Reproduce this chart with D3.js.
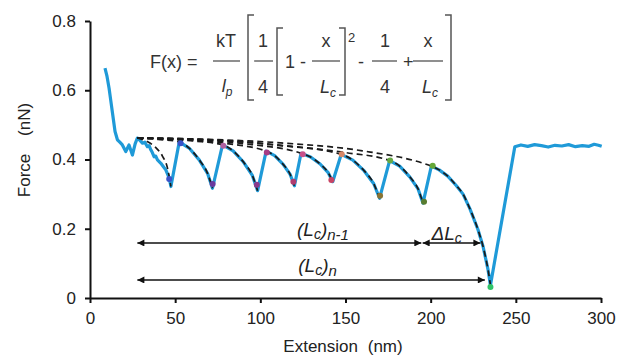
<!DOCTYPE html>
<html>
<head>
<meta charset="utf-8">
<script src="https://cdn.jsdelivr.net/npm/d3@7"></script>
<style>
  html, body { margin: 0; padding: 0; background: #fff; }
  svg { display: block; font-family: "Liberation Sans", Arial, sans-serif; }
</style>
</head>
<body>
<svg id="chart" width="619" height="357"></svg>
<script>
// measured force-extension trace: [extension (nm), force (nN)]
const trace = [
  [8.8, 0.664], [10, 0.64], [11.2, 0.606], [12.2, 0.57], [13.1, 0.538], [14.7, 0.481], [16.1, 0.457],
  [17.5, 0.45], [19, 0.442], [21, 0.423], [22.9, 0.442], [24.9, 0.413], [26.5, 0.445], [27.8, 0.462],
  [29.3, 0.455], [30.8, 0.447], [32.2, 0.45], [33.7, 0.437], [34.7, 0.44], [35.7, 0.428], [36.6, 0.42],
  [37.6, 0.408], [38.6, 0.41], [39.6, 0.399], [41.6, 0.389], [43, 0.38], [44.5, 0.37], [46.5, 0.346],
  [47.5, 0.322],
  [52.4, 0.451], [58.2, 0.433], [64.1, 0.399], [69, 0.36], [71.9, 0.317],
  [77.8, 0.442], [84, 0.425], [90.2, 0.392], [95.3, 0.354], [98.4, 0.31],
  [103.4, 0.424], [108.4, 0.411], [113.4, 0.386], [117.5, 0.357], [120, 0.324],
  [123.9, 0.418], [129.5, 0.407], [135.1, 0.387], [139.7, 0.363], [142.5, 0.336],
  [147.5, 0.415], [154.3, 0.398], [161, 0.367], [166.6, 0.33], [170, 0.288],
  [175.9, 0.397], [181.8, 0.381], [187.7, 0.35], [192.6, 0.315], [195.5, 0.274],
  [200.4, 0.381], [205, 0.37], [210, 0.352], [215, 0.325], [219, 0.3], [223, 0.258],
  [227.8, 0.197], [230.8, 0.148], [233.7, 0.081], [235.1, 0.037],
  [249.4, 0.437], [253, 0.442], [257, 0.438], [261, 0.443], [265, 0.44], [269, 0.436], [273, 0.441],
  [277, 0.439], [281, 0.443], [285, 0.437], [289, 0.44], [293, 0.438], [296, 0.444], [298.5, 0.441], [300.4, 0.438]
];

// WLC fit curves (dashed), one per unfolding event
const fit1 = [[27.8, 0.462], [33.5, 0.452], [38.5, 0.435], [42.5, 0.41], [45.5, 0.375], [47.5, 0.322]];
const fit2 = [[27.8, 0.462], [40, 0.458], [52.4, 0.451], [58.2, 0.433], [64.1, 0.399], [69, 0.36], [71.9, 0.317]];
const fit3 = [[27.8, 0.462], [45, 0.459], [62, 0.453], [77.8, 0.442], [84, 0.425], [90.2, 0.392], [95.3, 0.354], [98.4, 0.31]];
const fit4 = [[27.8, 0.462], [55, 0.457], [80, 0.446], [103.4, 0.424], [108.4, 0.411], [113.4, 0.386], [117.5, 0.357], [120, 0.324]];
const fit5 = [[27.8, 0.462], [60, 0.457], [95, 0.443], [123.9, 0.418], [129.5, 0.407], [135.1, 0.387], [139.7, 0.363], [142.5, 0.336]];
const fit6 = [[27.8, 0.462], [65, 0.458], [110, 0.442], [147.5, 0.415], [154.3, 0.398], [161, 0.367], [166.6, 0.33], [170, 0.288]];
const fit7 = [[27.8, 0.462], [70, 0.457], [112, 0.44], [150, 0.42], [175.9, 0.397], [181.8, 0.381], [187.7, 0.35], [192.6, 0.315], [195.5, 0.274]];
const fit8 = [[27.8, 0.462], [70, 0.458], [112, 0.448], [160, 0.425], [195, 0.39], [200.4, 0.381], [205, 0.37], [210, 0.352],
  [215, 0.325], [219, 0.3], [223, 0.258], [227.8, 0.197], [230.8, 0.148], [233.7, 0.081], [235.1, 0.037]];

// coloured markers at the fit ends
const dotX = [46.5, 53.2, 72, 78.3, 97.9, 103.8, 119.4, 124.9, 141.7, 147.8, 170.3, 176.2, 196.1, 201.2, 235.1];
const dotF = [0.344, 0.447, 0.329, 0.44, 0.327, 0.42, 0.336, 0.415, 0.341, 0.415, 0.295, 0.397, 0.278, 0.382, 0.032];
const dotColor = ['#3a52c8', '#3a52c8', '#6a3a9e', '#b060a0', '#8a3a8c', '#a83c84', '#b03c70', '#c8508a',
  '#c84464', '#d88868', '#8a7434', '#66a844', '#587c30', '#66a838', '#30c468'];

// contour length arrows
const arrowFrom = [27.8, 195.3, 27.8];
const arrowTo = [194.5, 229.2, 231.8];
const arrowF = [0.159, 0.159, 0.052];

const xTicks = [0, 50, 100, 150, 200, 250, 300];
const yTicks = [0, 0.2, 0.4, 0.6, 0.8];

const svg = d3.select('#chart');
const x = d3.scaleLinear().domain([0, 300]).range([90, 601]);
const y = d3.scaleLinear().domain([0, 0.8]).range([298, 21]);

const FONT = '"Liberation Sans", Arial, sans-serif';

// axes
const xAxis = svg.append('g')
  .attr('transform', `translate(0,${y(0)})`)
  .call(d3.axisBottom(x).tickValues(xTicks).tickSize(5).tickSizeOuter(0).tickPadding(9).tickFormat(d3.format('d')));
const yAxis = svg.append('g')
  .attr('transform', `translate(${x(0)},0)`)
  .call(d3.axisLeft(y).tickValues(yTicks).tickSize(5).tickSizeOuter(0).tickPadding(9)
    .tickFormat(d => d === 0 ? '0' : d3.format('.1f')(d)));
[xAxis, yAxis].forEach(a => {
  a.select('.domain').attr('stroke', '#111').attr('stroke-width', 2);
  a.selectAll('.tick line').attr('stroke', '#111').attr('stroke-width', 2);
  a.selectAll('.tick text').attr('fill', '#222').attr('font-size', 17).attr('font-family', FONT);
});

// axis titles
const yTitle = svg.append('text')
  .attr('transform', 'translate(30,150) rotate(-90)')
  .attr('text-anchor', 'middle')
  .attr('font-size', 17).attr('fill', '#222');
yTitle.append('tspan').text('Force ');
yTitle.append('tspan').attr('dx', 13).text('(nN)');

const xTitle = svg.append('text')
  .attr('x', 343).attr('y', 352)
  .attr('text-anchor', 'middle')
  .attr('font-size', 17).attr('fill', '#222');
xTitle.append('tspan').text('Extension ');
xTitle.append('tspan').attr('dx', 5).text('(nm)');

// trace
const line = d3.line().x(d => x(d[0])).y(d => y(d[1]));
svg.append('path')
  .datum(trace)
  .attr('fill', 'none')
  .attr('stroke', '#1f9ad8')
  .attr('stroke-width', 3.2)
  .attr('stroke-linejoin', 'round')
  .attr('d', line);

// dashed WLC fits
const fitLine = d3.line().x(d => x(d[0])).y(d => y(d[1])).curve(d3.curveMonotoneX);
[fit1, fit2, fit3, fit4, fit5, fit6, fit7, fit8].forEach(f => {
  svg.append('path')
    .datum(f)
    .attr('fill', 'none')
    .attr('stroke', '#1a1a1a')
    .attr('stroke-width', 1.7)
    .attr('stroke-dasharray', '6,4')
    .attr('d', fitLine);
});

svg.append('g').selectAll('circle')
  .data(dotX)
  .join('circle')
  .attr('cx', d => x(d))
  .attr('cy', (d, i) => y(dotF[i]))
  .attr('r', 3)
  .attr('fill', (d, i) => dotColor[i]);

// arrows
const defs = svg.append('defs');
defs.append('marker')
  .attr('id', 'head')
  .attr('viewBox', '0 0 10 10')
  .attr('refX', 10).attr('refY', 5)
  .attr('markerWidth', 8).attr('markerHeight', 7)
  .attr('markerUnits', 'userSpaceOnUse')
  .attr('orient', 'auto-start-reverse')
  .append('path').attr('d', 'M0,0L10,5L0,10Z').attr('fill', '#111');

svg.append('g').selectAll('line')
  .data(arrowFrom)
  .join('line')
  .attr('x1', d => x(d))
  .attr('x2', (d, i) => x(arrowTo[i]))
  .attr('y1', (d, i) => y(arrowF[i]))
  .attr('y2', (d, i) => y(arrowF[i]))
  .attr('stroke', '#111')
  .attr('stroke-width', 1.5)
  .attr('marker-start', 'url(#head)')
  .attr('marker-end', 'url(#head)');

// arrow labels
function lcLabel(cx, f, sub) {
  const t = svg.append('text')
    .attr('x', x(cx)).attr('y', y(f))
    .attr('text-anchor', 'middle')
    .attr('font-size', 19).attr('font-style', 'italic').attr('fill', '#222');
  t.append('tspan').text('(L');
  t.append('tspan').attr('font-size', 14).attr('dy', 3).text('c');
  t.append('tspan').attr('dy', -3).text(')');
  t.append('tspan').attr('font-size', 15).attr('dy', 4).text(sub);
}
lcLabel(136.8, 0.179, 'n-1');
lcLabel(133.6, 0.075, 'n');

const dl = svg.append('text')
  .attr('x', x(200.5)).attr('y', y(0.168))
  .attr('font-size', 19).attr('font-style', 'italic').attr('fill', '#222');
dl.append('tspan').text('\u0394L');
dl.append('tspan').attr('font-size', 14).attr('dy', 3).text('c');

// equation inset
const eq = svg.append('g').attr('fill', '#333').attr('font-size', 18);
function eqText(px, py, str, anchor) {
  return eq.append('text').attr('x', px).attr('y', py).attr('text-anchor', anchor || 'middle').text(str);
}
function eqItalicSub(px, py, main, sub) {
  const t = eq.append('text').attr('x', px).attr('y', py).attr('text-anchor', 'middle').attr('font-style', 'italic');
  t.append('tspan').text(main);
  t.append('tspan').attr('font-size', 12).attr('dy', 4).text(sub);
}
function bar(x1, x2) {
  eq.append('line').attr('x1', x1).attr('x2', x2).attr('y1', 61).attr('y2', 61)
    .attr('stroke', '#444').attr('stroke-width', 1.2);
}
function bracket(bx, y1, y2, dir) {
  eq.append('path')
    .attr('d', `M${bx + dir * 6},${y1}H${bx}V${y2}H${bx + dir * 6}`)
    .attr('fill', 'none').attr('stroke', '#555').attr('stroke-width', 1.5);
}

eqText(150, 68, 'F(x) =', 'start');
eqText(226, 47, 'kT'); bar(213, 240); eqItalicSub(227, 92, 'l', 'p');
bracket(248, 15, 100, 1);
eqText(263, 47, '1'); bar(254, 273); eqText(263, 93, '4');
bracket(277, 28, 95, 1);
eqText(285, 68, '1 -', 'start');
eqText(326, 47, 'x'); bar(312, 340); eqItalicSub(328, 93, 'L', 'c');
bracket(345, 28, 95, -1);
eq.append('text').attr('x', 348).attr('y', 42).attr('font-size', 13).text('2');
eqText(358, 68, '-', 'start');
eqText(385, 47, '1'); bar(372, 397); eqText(385, 93, '4');
eqText(403, 68, '+', 'start');
eqText(428, 47, 'x'); bar(413, 443); eqItalicSub(430, 93, 'L', 'c');
bracket(451, 15, 100, -1);
</script>
</body>
</html>
